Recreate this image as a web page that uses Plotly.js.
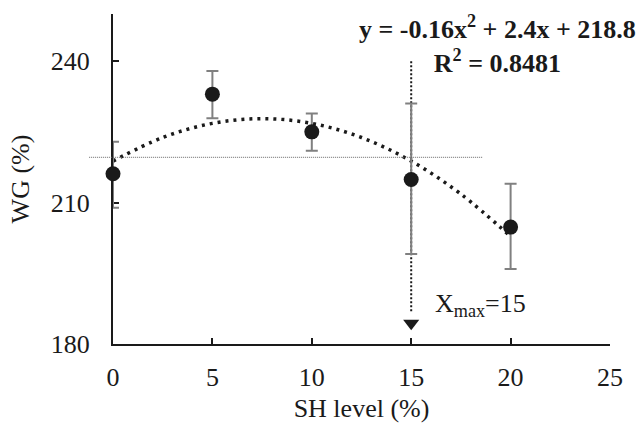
<!DOCTYPE html>
<html>
<head>
<meta charset="utf-8">
<script src="https://cdn.plot.ly/plotly-3.0.1.min.js"></script>
<style>html,body{margin:0;padding:0;background:#fff;}#chart{width:644px;height:427px;}</style>
</head>
<body>
<div id="chart"></div>
<script>
// Data
const shLevel = [0, 5, 10, 15, 20];
const wg = [216.1, 233.0, 225.0, 214.9, 204.8];
const errPlus = [6.8, 4.9, 3.9, 16.1, 9.2];
const errMinus = [7.2, 5.1, 4.0, 15.8, 8.9];

// Quadratic trend line
const trendX = [0, 2.5, 5, 7.5, 10, 12.5, 15, 17.5, 20];
const trendY = [218.8, 223.8, 226.8, 227.8, 226.8, 223.8, 218.8, 211.8, 202.8];

// Reference horizontal line and Xmax arrow
const refLineX = [-1.2, 18.6];
const refLineY = 219.6;
const arrowX = [15, 15];
const arrowY = [240, 186.6];
const arrowTip = 184.4;

const xTicks = [0, 5, 10, 15, 20, 25];
const yTicks = [180, 210, 240];
const xRange = [0, 25];
const yRange = [180, 250];

const eqLine1 = 'y = -0.16x<sup>2</sup> + 2.4x + 218.8';
const eqLine2 = 'R<sup>2</sup> = 0.8481';
const xmaxLabel = 'X<sub>max</sub>=15';

const font = '"Liberation Serif", "Times New Roman", Times, serif';
const dark = '#1a1a1a';
const fs = 26;

const traces = [
  {
    x: trendX, y: trendY, type: 'scatter', mode: 'lines',
    line: {color: dark, width: 3.5, dash: '3px,5px', shape: 'spline'},
    hoverinfo: 'skip'
  },
  {
    x: arrowX, y: arrowY, type: 'scatter', mode: 'lines',
    line: {color: dark, width: 2, dash: '2px,2px'},
    hoverinfo: 'skip'
  },
  {
    x: [arrowX[0]], y: [arrowTip], type: 'scatter', mode: 'markers',
    marker: {symbol: 'triangle-down', size: 14, color: dark},
    cliponaxis: false, hoverinfo: 'skip'
  },
  {
    x: shLevel, y: wg, type: 'scatter', mode: 'markers',
    marker: {size: 15, color: dark},
    error_y: {type: 'data', symmetric: false, array: errPlus, arrayminus: errMinus,
              color: '#808080', thickness: 2, width: 6},
    cliponaxis: false
  }
];

const layout = {
  width: 644, height: 427,
  margin: {l: 113, r: 34, t: 14, b: 83},
  paper_bgcolor: '#fff', plot_bgcolor: '#fff',
  showlegend: false,
  font: {family: font, size: fs, color: dark},
  xaxis: {
    range: xRange, tickvals: xTicks, ticktext: xTicks.map(String),
    tickfont: {family: font, size: fs, color: dark},
    showgrid: false, zeroline: false, showline: true, linecolor: dark, linewidth: 2,
    ticks: 'inside', ticklen: 6, tickwidth: 2, tickcolor: dark,
    ticklabelstandoff: 9, layer: 'below traces',
    title: {text: 'SH level (%)', font: {family: font, size: fs, color: dark}, standoff: 8}
  },
  yaxis: {
    range: yRange, tickvals: yTicks, ticktext: yTicks.map(String),
    tickfont: {family: font, size: fs, color: dark},
    showgrid: false, zeroline: false, showline: true, linecolor: dark, linewidth: 2,
    ticks: 'inside', ticklen: 6, tickwidth: 2, tickcolor: dark,
    ticklabelstandoff: 16, layer: 'below traces',
    title: {text: 'WG (%)', font: {family: font, size: fs, color: dark}, standoff: 14}
  },
  shapes: [
    {
      type: 'line', xref: 'x domain', yref: 'y',
      x0: (refLineX[0] - xRange[0]) / (xRange[1] - xRange[0]),
      x1: (refLineX[1] - xRange[0]) / (xRange[1] - xRange[0]),
      y0: refLineY, y1: refLineY,
      line: {color: '#666', width: 1, dash: '1px,1px'}
    }
  ],
  annotations: [
    {x: 19.34, y: 243.6, xref: 'x', yref: 'y',
     text: '<b>' + eqLine1 + '<br>' + eqLine2 + '</b>', showarrow: false,
     xanchor: 'center', yanchor: 'middle', align: 'center',
     font: {family: font, size: 26, color: dark}},
    {x: 16.1, y: 188.3, xref: 'x', yref: 'y', text: xmaxLabel, showarrow: false,
     xanchor: 'left', yanchor: 'middle', font: {family: font, size: fs, color: dark}}
  ]
};

Plotly.newPlot('chart', traces, layout, {displayModeBar: false, staticPlot: true});
</script>
</body>
</html>
